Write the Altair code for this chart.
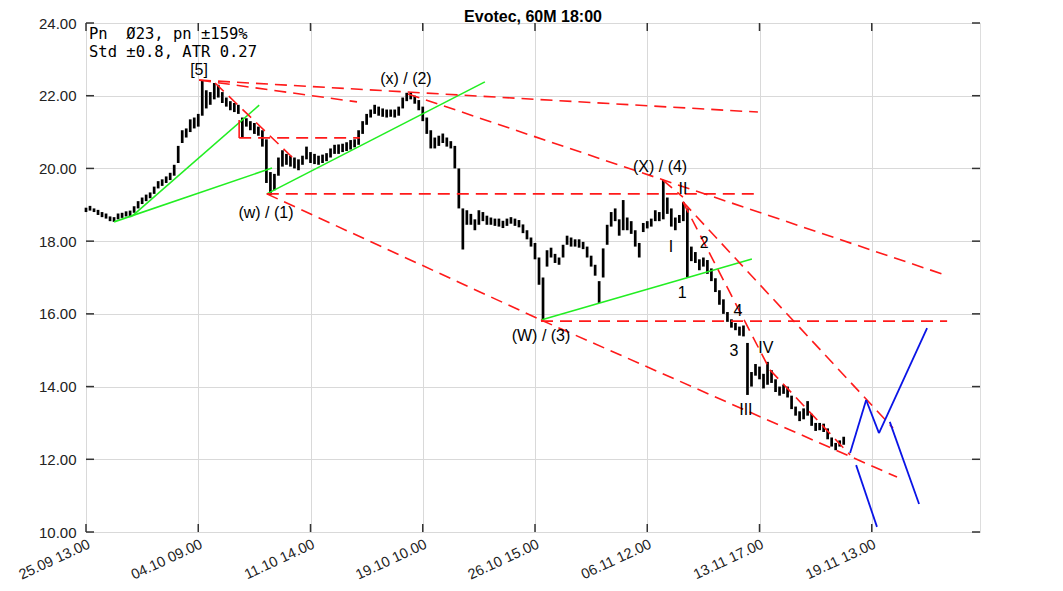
import altair as alt
import pandas as pd

# ---------------- data ----------------
bar_low = [18.80, 18.84, 18.80, 18.72, 18.66, 18.62, 18.55, 18.53, 18.60, 18.64,
           18.68, 18.66, 18.78, 18.90, 19.02, 19.10, 19.18, 19.30, 19.45, 19.52,
           19.60, 19.68, 19.80, 20.15, 20.70, 20.85, 21.00, 21.10, 21.15, 21.45,
           21.65, 21.75, 21.90, 21.95, 21.80, 21.70, 21.60, 21.55, 21.50, 20.85,
           21.15, 21.05, 20.95, 20.90, 20.60, 19.60, 19.27, 19.40, 19.80, 20.05,
           20.10, 20.05, 20.00, 19.95, 20.10, 20.25, 20.15, 20.12, 20.10, 20.15,
           20.20, 20.30, 20.40, 20.40, 20.45, 20.48, 20.52, 20.58, 20.65, 20.95,
           21.20, 21.40, 21.50, 21.45, 21.42, 21.40, 21.42, 21.40, 21.45, 21.65,
           21.85, 21.90, 21.78, 21.60, 21.30, 20.95, 20.55, 20.55, 20.62, 20.70,
           20.60, 20.55, 20.00, 18.90, 17.77, 18.45, 18.45, 18.30, 18.45, 18.55,
           18.45, 18.45, 18.42, 18.40, 18.36, 18.42, 18.48, 18.42, 18.38, 18.22,
           18.05, 17.85, 17.50, 16.80, 15.84, 17.30, 17.55, 17.40, 17.35, 17.55,
           17.90, 17.85, 17.85, 17.82, 17.78, 17.55, 17.30, 17.05, 16.30, 17.00,
           17.90, 18.40, 18.55, 18.15, 18.30, 18.30, 18.20, 17.85, 17.55, 18.25,
           18.35, 18.40, 18.55, 18.55, 18.60, 18.75, 18.40, 18.30, 18.50, 18.55,
           17.00, 17.45, 17.40, 17.20, 17.30, 17.10, 16.90, 16.60, 16.25, 16.00,
           15.78, 15.62, 15.55, 15.40, 15.38, 13.77, 14.00, 14.30, 14.20, 13.95,
           14.05, 14.10, 13.85, 13.75, 13.80, 13.70, 13.38, 13.20, 13.05, 13.10,
           13.20, 12.92, 12.78, 12.80, 12.75, 12.55, 12.35, 12.25, 12.35, 12.40]

bar_high = [18.92, 18.97, 18.90, 18.86, 18.80, 18.76, 18.68, 18.66, 18.76, 18.78,
            18.82, 18.84, 18.96, 19.10, 19.20, 19.28, 19.34, 19.50, 19.65, 19.70,
            19.78, 19.88, 20.10, 20.62, 21.05, 21.10, 21.35, 21.40, 21.50, 22.43,
            22.15, 22.10, 22.35, 22.30, 22.10, 21.95, 21.85, 21.80, 21.75, 21.40,
            21.38, 21.30, 21.25, 21.15, 21.05, 20.80, 19.90, 19.85, 20.30, 20.50,
            20.40, 20.35, 20.30, 20.25, 20.35, 20.60, 20.45, 20.40, 20.35, 20.38,
            20.42, 20.55, 20.65, 20.66, 20.68, 20.72, 20.78, 20.80, 21.05, 21.30,
            21.50, 21.62, 21.75, 21.70, 21.65, 21.62, 21.62, 21.62, 21.70, 21.95,
            22.08, 22.08, 22.00, 21.88, 21.70, 21.40, 21.05, 20.85, 20.90, 20.96,
            20.85, 20.75, 20.62, 20.00, 18.90, 18.85, 18.75, 18.60, 18.85, 18.80,
            18.70, 18.65, 18.62, 18.62, 18.56, 18.62, 18.66, 18.62, 18.58, 18.46,
            18.30, 18.10, 17.95, 17.55, 17.00, 17.75, 17.82, 17.65, 17.55, 17.90,
            18.15, 18.10, 18.05, 18.05, 17.98, 17.85, 17.60, 17.35, 16.90, 17.80,
            18.45, 18.80, 18.90, 18.60, 19.13, 18.65, 18.55, 18.30, 17.95, 18.50,
            18.55, 18.62, 18.85, 18.80, 19.68, 19.20, 18.90, 18.65, 18.72, 19.08,
            18.90, 17.85, 17.70, 17.50, 17.55, 17.48, 17.25, 16.98, 16.65, 16.40,
            16.05, 15.85, 15.75, 15.65, 15.68, 15.20, 14.40, 14.62, 14.55, 14.35,
            14.68, 14.45, 14.20, 14.00, 14.05, 14.00, 13.75, 13.45, 13.32, 13.40,
            13.60, 13.25, 13.00, 13.00, 12.98, 12.85, 12.60, 12.45, 12.52, 12.62]

# red dashed trend lines (bar index / price at both ends)
red_x1 = [28.2, 28.2, 32.2, 38.2, 45.1, 45.1, 113.5, 113.5, 80.3, 143.9, 148.9, 148.9, 170.6]
red_y1 = [22.43, 22.43, 22.35, 20.84, 19.30, 19.30, 15.83, 15.80, 22.05, 19.68, 19.08, 19.08, 14.46]
red_x2 = [167.6, 67.6, 51.6, 68.3, 167.6, 113.5, 202.3, 214.8, 214.3, 148.9, 201.3, 170.6, 190.6]
red_y2 = [21.55, 21.83, 20.29, 20.84, 19.30, 15.83, 11.51, 15.80, 17.07, 19.21, 12.86, 14.46, 12.12]

# red solid marker
reds_x1 = [38.2]
reds_y1 = [21.33]
reds_x2 = [38.2]
reds_y2 = [20.84]

# green support lines
green_x1 = [11.5, 7.0, 45.1, 113.5]
green_y1 = [18.69, 18.53, 19.30, 15.83]
green_x2 = [43.2, 46.4, 99.5, 166.1]
green_y2 = [21.74, 20.01, 22.38, 17.51]

# blue projection paths
blue_x1 = [190.6, 194.6, 197.8, 200.5, 192.1]
blue_y1 = [12.17, 13.63, 12.72, 13.03, 11.84]
blue_x2 = [194.6, 197.8, 209.8, 207.8, 197.3]
blue_y2 = [13.63, 12.72, 15.61, 10.77, 10.14]

# wave labels
wave_text = ["[5]", "(x) / (2)", "(w) / (1)", "(W) / (3)", "(X) / (4)",
             "II", "I", "1", "2", "4", "3", "IV", "III"]
wave_x = [28.2, 79.8, 44.9, 113.5, 143.2, 148.9, 145.9, 148.7, 154.2, 162.6, 161.6, 169.6, 164.6]
wave_y = [22.72, 22.46, 18.77, 15.39, 20.04, 19.43, 17.84, 16.57, 17.95, 16.08, 14.98, 15.06, 13.36]

y_ticks = [10, 12, 14, 16, 18, 20, 22, 24]
x_ticks = [0, 28, 56, 84, 112, 140, 168, 196]
x_tick_labels = ["25.09 13.00", "04.10 09.00", "11.10 14.00", "19.10 10.00",
                 "26.10 15.00", "06.11 12.00", "13.11 17.00", "19.11 13.00"]

title_text = "Evotec, 60M 18:00"
info_line1 = "Pn\u00a0\u00a0Ø23, pn ±159%"
info_line2 = "Std ±0.8, ATR 0.27"

# ---------------- chart ----------------
W, H = 894, 509
FONT = "Liberation Sans"
xs = alt.Scale(domain=[0, 223], nice=False, zero=False)
ys = alt.Scale(domain=[10, 24], nice=False, zero=False)

label_expr = " : ".join(f"datum.value == {v} ? '{t}'" for v, t in zip(x_ticks, x_tick_labels)) + " : ''"

XAX = alt.Axis(values=x_ticks, labelExpr=label_expr, labelAngle=-25, labelAlign="right",
               labelBaseline="top", labelPadding=5, grid=True, gridColor="#d9d9d9",
               gridWidth=1, domain=False, ticks=False, title=None, labelFont=FONT,
               labelFontSize=14.5, labelColor="#222")
YAX = alt.Axis(values=y_ticks, format=".2f", labelPadding=10, grid=True,
               gridColor="#d9d9d9", gridWidth=1, domain=False, ticks=False, title=None,
               labelFont=FONT, labelFontSize=15, labelColor="#222")

bars = pd.DataFrame({"i": list(range(len(bar_low))), "lo": bar_low, "hi": bar_high})

base = alt.Chart(bars).mark_rule(color="black", strokeWidth=2.7).encode(
    x=alt.X("i:Q", scale=xs, axis=XAX),
    y=alt.Y("lo:Q", scale=ys, axis=YAX),
    y2="hi:Q",
)


def seg_df(x1, y1, x2, y2):
    return pd.DataFrame({"x1": x1, "y1": y1, "x2": x2, "y2": y2})


def seg_enc(ch):
    return ch.encode(
        x=alt.X("x1:Q", scale=xs, axis=XAX),
        y=alt.Y("y1:Q", scale=ys, axis=YAX),
        x2="x2:Q", y2="y2:Q",
    )


red = seg_enc(alt.Chart(seg_df(red_x1, red_y1, red_x2, red_y2)).mark_rule(
    color="#ff1a1a", strokeWidth=1.6, strokeDash=[12, 7]))
reds = seg_enc(alt.Chart(seg_df(reds_x1, reds_y1, reds_x2, reds_y2)).mark_rule(
    color="#ff1a1a", strokeWidth=1.6))
green = seg_enc(alt.Chart(seg_df(green_x1, green_y1, green_x2, green_y2)).mark_rule(
    color="#22ee22", strokeWidth=1.6))
blue = seg_enc(alt.Chart(seg_df(blue_x1, blue_y1, blue_x2, blue_y2)).mark_rule(
    color="#0a14e6", strokeWidth=1.8))

waves = alt.Chart(pd.DataFrame({"t": wave_text, "x": wave_x, "y": wave_y})).mark_text(
    font=FONT, fontSize=16, color="black", baseline="middle", align="center").encode(
    x=alt.X("x:Q", scale=xs, axis=XAX), y=alt.Y("y:Q", scale=ys, axis=YAX), text="t:N")

# inward tick marks on all four sides
yt = pd.DataFrame({"v": y_ticks})
xt = pd.DataFrame({"v": x_ticks})
tick_style = dict(color="#333", strokeWidth=1.5)
tl = alt.Chart(yt).mark_rule(**tick_style).encode(
    y=alt.Y("v:Q", scale=ys, axis=YAX), x=alt.value(0), x2=alt.value(8))
tr = alt.Chart(yt).mark_rule(**tick_style).encode(
    y=alt.Y("v:Q", scale=ys, axis=YAX), x=alt.value(W - 8), x2=alt.value(W))
tb = alt.Chart(xt).mark_rule(**tick_style).encode(
    x=alt.X("v:Q", scale=xs, axis=XAX), y=alt.value(H - 8), y2=alt.value(H))
tt = alt.Chart(xt).mark_rule(**tick_style).encode(
    x=alt.X("v:Q", scale=xs, axis=XAX), y=alt.value(0), y2=alt.value(8))

title = alt.Chart(pd.DataFrame({"t": [title_text]})).mark_text(
    font=FONT, fontSize=16, fontWeight="bold", color="black", align="center",
    baseline="top").encode(x=alt.value(W / 2), y=alt.value(-14), text="t:N")

info1 = alt.Chart(pd.DataFrame({"t": [info_line1]})).mark_text(
    font="DejaVu Sans Mono", fontSize=15.5, color="black", align="left",
    baseline="middle").encode(x=alt.value(3), y=alt.value(11), text="t:N")
info2 = alt.Chart(pd.DataFrame({"t": [info_line2]})).mark_text(
    font="DejaVu Sans Mono", fontSize=15.5, color="black", align="left",
    baseline="middle").encode(x=alt.value(3), y=alt.value(29), text="t:N")

chart = alt.layer(base, green, red, reds, blue, waves, tl, tr, tb, tt, title, info1, info2).properties(
    width=W, height=H,
    autosize=alt.AutoSizeParams(type="none"),
    padding={"left": 78, "top": 15, "right": 75, "bottom": 51},
).configure_view(stroke="#555", strokeWidth=2).configure(background="white")

chart.save("out.html", embed_options={"renderer": "svg", "actions": False})
